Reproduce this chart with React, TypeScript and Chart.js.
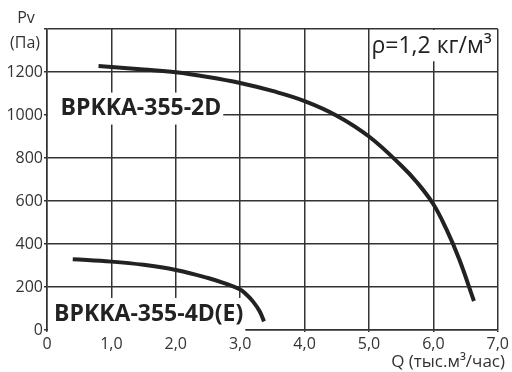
import React, { useEffect, useRef } from "react";
import { Chart, registerables } from "chart.js";

Chart.register(...registerables);

const q2D = [0.8, 1.5, 2.0, 2.5, 3.0, 3.5, 4.0, 4.5, 5.0, 5.5, 5.75, 6.0, 6.2, 6.4, 6.63];
const p2D = [1228, 1212, 1199, 1177, 1149, 1112, 1065, 997, 900, 765, 685, 585, 470, 330, 135];
const q4D = [0.4, 1.0, 1.5, 2.0, 2.5, 2.75, 3.0, 3.1, 3.2, 3.3, 3.37];
const p4D = [329, 318, 303, 279, 242, 218, 188, 164, 132, 88, 40];

const xTicks = [0, 1, 2, 3, 4, 5, 6, 7];
const yTicks = [0, 200, 400, 600, 800, 1000, 1200];

const label2D = "BPKKA-355-2D";
const label4D = "BPKKA-355-4D(E)";
const densityLabel = "ρ=1,2 кг/м³";
const yTitle = ["Pv", "(Па)"];
const xTitle = "Q (тыс.м³/час)";

const FONT = "'Open Sans', 'DejaVu Sans', sans-serif";

export default function App() {
  const ref = useRef<HTMLCanvasElement>(null);
  useEffect(() => {
    document.body.style.margin = "0";
    const canvas = ref.current!;
    const boxesPlugin = {
      id: "boxes",
      beforeDatasetsDraw(chart: any) {
        const ctx = chart.ctx;
        const xs = chart.scales.x;
        const ys = chart.scales.y;
        const left = chart.chartArea.left + 1;
        ctx.save();
        const drawBox = (text: string, font: string, xv: number, yv: number, h: number) => {
          ctx.font = font;
          const w = ctx.measureText(text).width;
          const x = xs.getPixelForValue(xv);
          const y = ys.getPixelForValue(yv);
          ctx.fillStyle = "#fff";
          ctx.fillRect(left, y - h / 2, x + w + 2 - left, h);
          ctx.fillStyle = "#222";
          ctx.textBaseline = "middle";
          ctx.textAlign = "left";
          ctx.fillText(text, x, y);
        };
        drawBox(label2D, `bold 23px ${FONT}`, 0.21, 1030, 32);
        drawBox(label4D, `bold 23px ${FONT}`, 0.11, 70, 34);
        const xl = xs.getPixelForValue(5.0) + 1;
        const yTop = chart.chartArea.top + 1;
        ctx.fillStyle = "#fff";
        ctx.fillRect(xl, yTop, chart.chartArea.right - xl - 1, ys.getPixelForValue(1250) - yTop);
        ctx.font = `23px ${FONT}`;
        ctx.fillStyle = "#222";
        ctx.textAlign = "right";
        ctx.textBaseline = "middle";
        ctx.fillText(densityLabel, chart.chartArea.right - 6, ys.getPixelForValue(1320));
        ctx.restore();
      },
      afterDraw(chart: any) {
        const ctx = chart.ctx;
        ctx.save();
        ctx.fillStyle = "#333";
        ctx.font = `16px ${FONT}`;
        ctx.textAlign = "center";
        ctx.textBaseline = "middle";
        ctx.fillText(yTitle[0], 26, 18);
        ctx.fillText(yTitle[1], 25, 43);
        ctx.textAlign = "right";
        ctx.font = `17px ${FONT}`;
        ctx.fillText(xTitle, 505, 362);
        ctx.restore();
      },
    };
    const chart = new Chart(canvas, {
      type: "scatter",
      data: {
        datasets: [
          {
            data: q2D.map((q, i) => ({ x: q, y: p2D[i] })),
            showLine: true,
            borderColor: "#222",
            borderWidth: 4,
            pointRadius: 0,
            tension: 0.4,
          },
          {
            data: q4D.map((q, i) => ({ x: q, y: p4D[i] })),
            showLine: true,
            borderColor: "#222",
            borderWidth: 4,
            pointRadius: 0,
            tension: 0.4,
          },
        ],
      },
      options: {
        animation: false,
        responsive: false,
        maintainAspectRatio: false,
        layout: { padding: { top: 29, right: 12, left: 0, bottom: 0 } },
        plugins: { legend: { display: false }, tooltip: { enabled: false } },
        scales: {
          x: {
            type: "linear",
            min: 0,
            max: 7,
            afterBuildTicks: (s: any) => {
              s.ticks = xTicks.map((v) => ({ value: v }));
            },
            afterFit: (s: any) => {
              s.height = 42;
            },
            ticks: {
              color: "#333",
              font: { family: FONT, size: 16 },
              padding: 3,
              maxRotation: 0,
              callback: (v: any) => (v === 0 ? "0" : Number(v).toFixed(1).replace(".", ",")),
            },
            grid: { color: "#333", lineWidth: 1.5, tickLength: 2, drawTicks: true },
            border: { color: "#333", width: 1.5 },
          },
          y: {
            type: "linear",
            min: 0,
            max: 1400,
            afterBuildTicks: (s: any) => {
              s.ticks = [...yTicks, 1400].map((v) => ({ value: v }));
            },
            afterFit: (s: any) => {
              s.width = 47;
            },
            ticks: {
              color: "#333",
              font: { family: FONT, size: 16 },
              padding: 1,
              callback: (v: any) => (v === 1400 ? "" : String(v)),
            },
            grid: { color: "#333", lineWidth: 1.5, tickLength: 3 },
            border: { color: "#333", width: 1.5 },
          },
        },
      },
      plugins: [boxesPlugin],
    } as any);
    return () => chart.destroy();
  }, []);
  return (
    <div style={{ width: 512, height: 372 }}>
      <canvas ref={ref} width={512} height={372} />
    </div>
  );
}
